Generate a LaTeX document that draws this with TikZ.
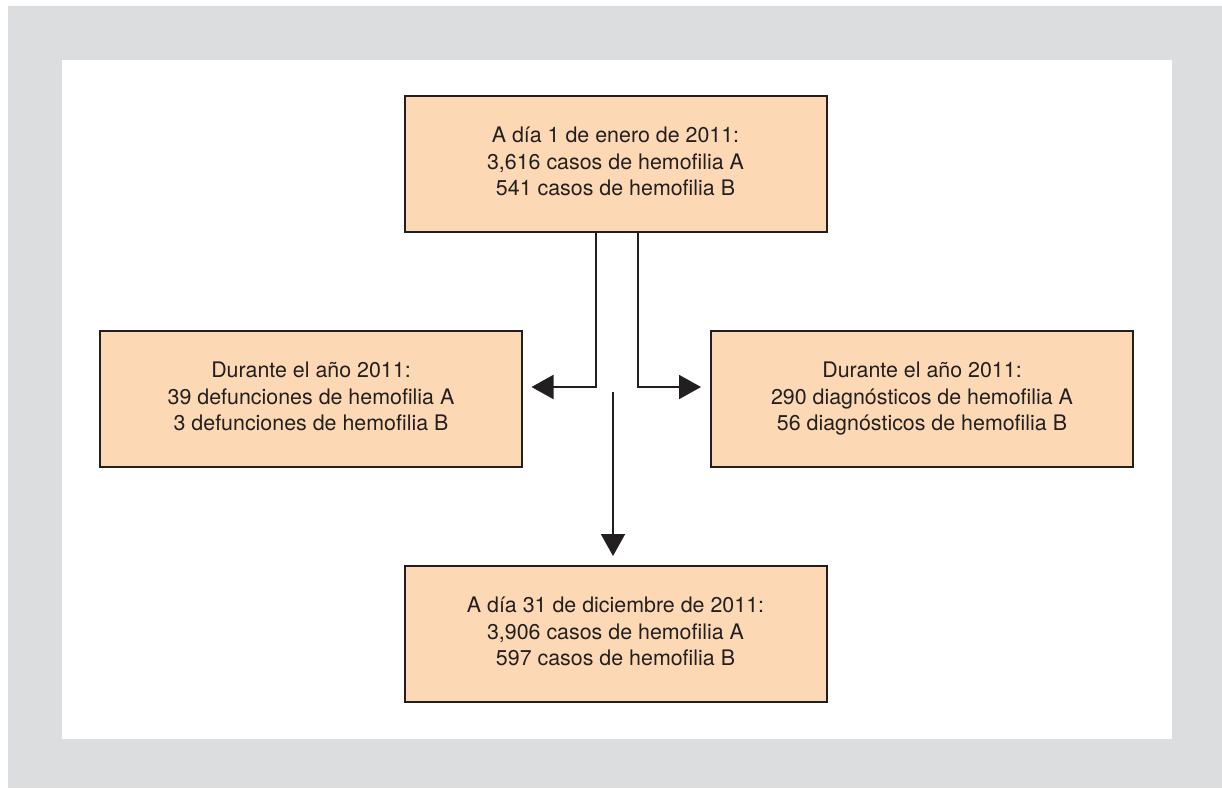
\documentclass[tikz,border=0pt]{standalone}
\usepackage{fontspec}
\setmainfont{TeX Gyre Heros}
\usetikzlibrary{arrows.meta}

\definecolor{framegray}{RGB}{220,221,223}
\definecolor{boxfill}{RGB}{252,217,180}
\definecolor{inkdark}{RGB}{35,31,32}

\begin{document}
\begin{tikzpicture}[x=1pt, y=-1pt,
  box/.style={draw=inkdark, fill=boxfill, line width=2pt, minimum width=422pt, minimum height=136pt,
    align=center, text=inkdark, font=\fontsize{21.4}{26.4}\selectfont,
    execute at end node={\rule[-5pt]{0pt}{0pt}}},
  link/.style={draw=inkdark, line width=2pt, -{Triangle[length=22pt, width=24pt]}}]

\def\width{1222}
\def\height{788}
\def\ox{615.5}

\useasboundingbox (0,0) rectangle (\width,\height);

% BACKGROUND
\fill [framegray] (8,6) rectangle (\width,\height);
\fill [white] (62,60) rectangle (1172,739);

% BOXES
\node [box] (start) at (\ox,164) {A día 1 de enero de 2011:\\3,616 casos de hemofilia A\\541 casos de hemofilia B};
\node [box] (deaths) at (311,399) {Durante el año 2011:\\39 defunciones de hemofilia A\\3 defunciones de hemofilia B};
\node [box] (diagnoses) at (922,399) {Durante el año 2011:\\290 diagnósticos de hemofilia A\\56 diagnósticos de hemofilia B};
\node [box] (final) at (\ox,634) {A día 31 de diciembre de 2011:\\3,906 casos de hemofilia A\\597 casos de hemofilia B};

% ARROWS
\coordinate (split) at (613,392);
\draw [link] ([xshift=-19.5pt]start.south) |- ([xshift=8.5pt, yshift=12pt]deaths.east);
\draw [link] ([xshift=22pt]start.south) |- ([xshift=-9pt, yshift=12pt]diagnoses.west);
\draw [link] (split) -- ([xshift=-2.5pt, yshift=9pt]final.north);

\end{tikzpicture}
\end{document}
